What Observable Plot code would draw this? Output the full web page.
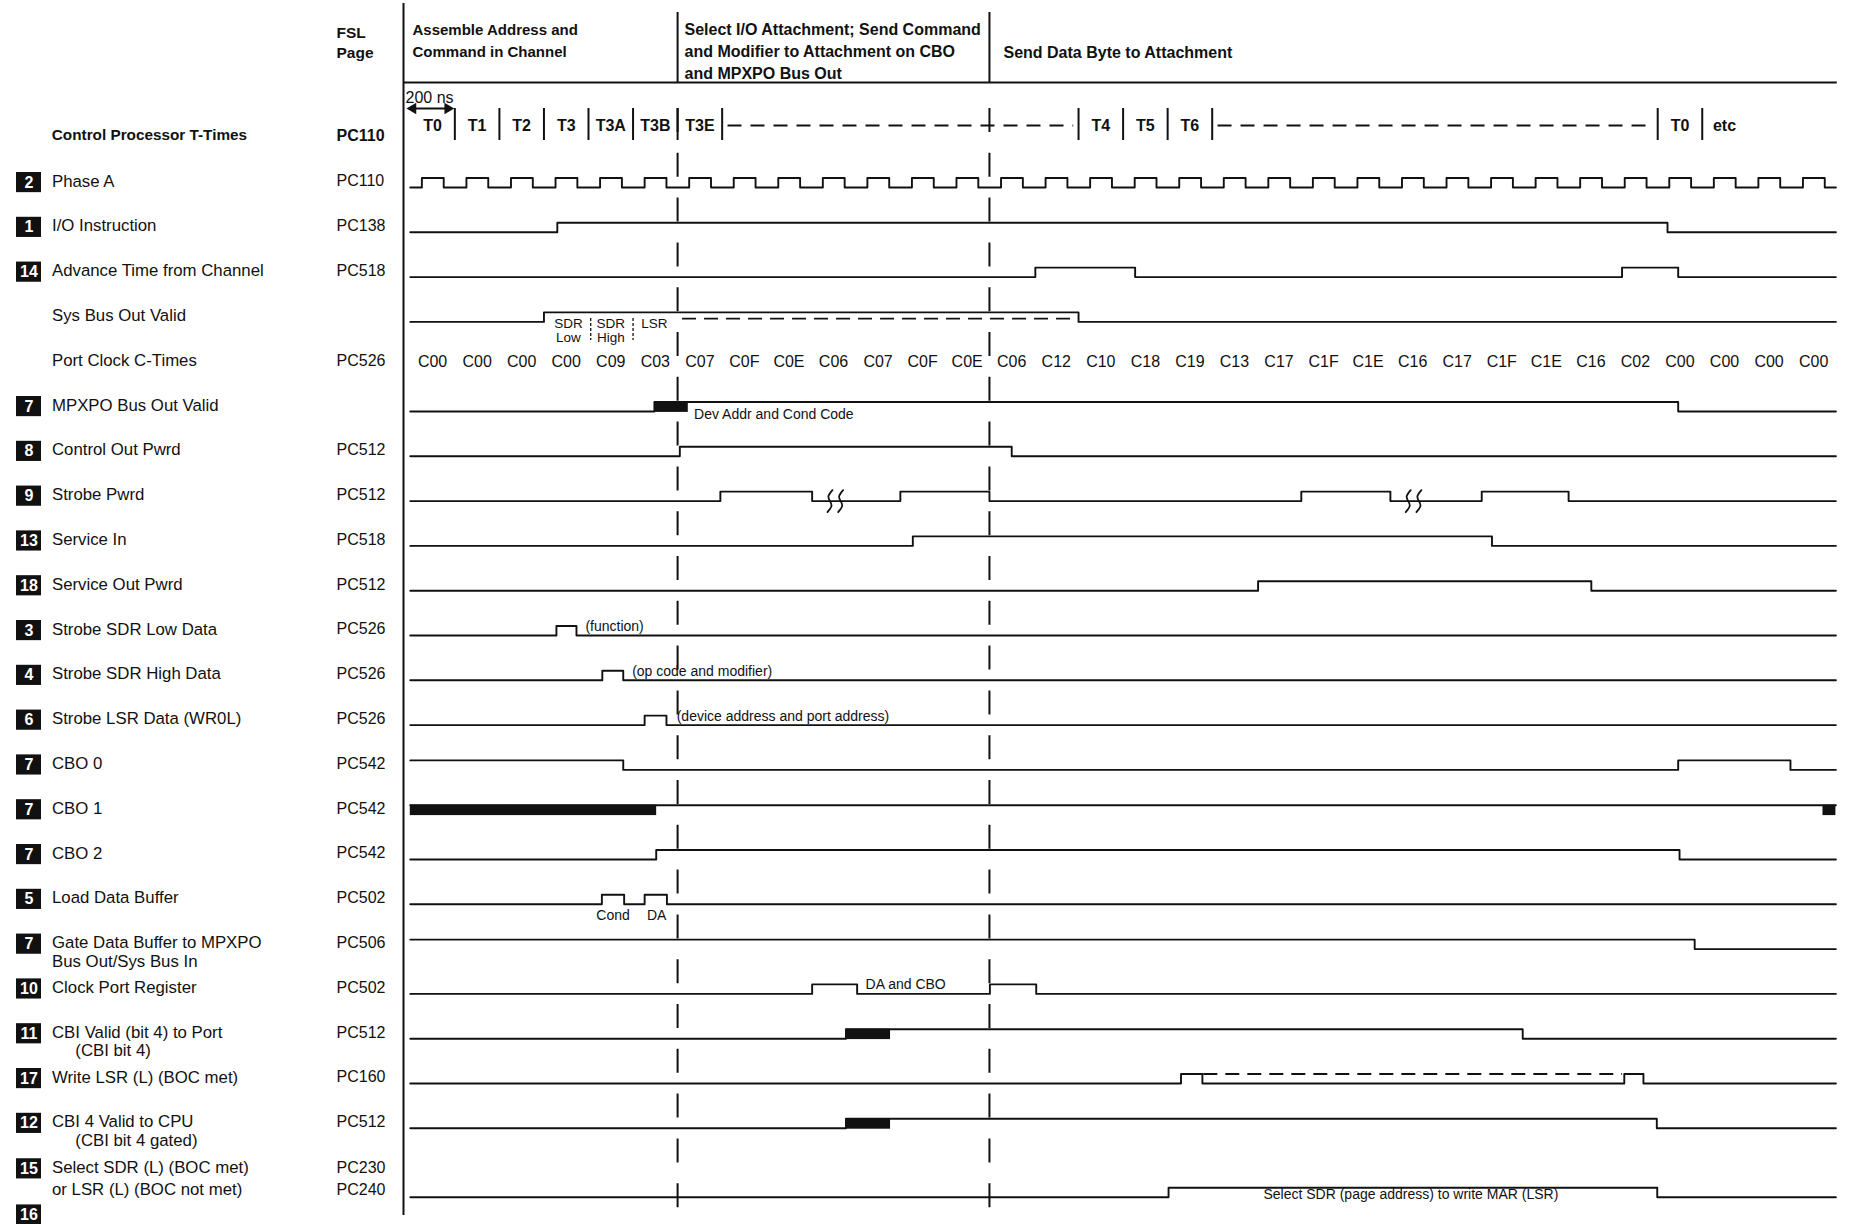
<!DOCTYPE html>
<html><head><meta charset="utf-8">
<script src="https://cdn.jsdelivr.net/npm/d3@7"></script>
<script src="https://cdn.jsdelivr.net/npm/@observablehq/plot@0.6"></script>
<style>html,body{margin:0;padding:0;background:#fff;overflow:hidden}</style>
</head><body><div id="chart"></div>
<script>
// ================= DATA =================
// time unit = one Port Clock column (200 ns); 32 columns
const cTimes = ["C00","C00","C00","C00","C09","C03","C07","C0F","C0E","C06","C07","C0F","C0E","C06","C12","C10","C18","C19","C13","C17","C1F","C1E","C16","C17","C1F","C1E","C16","C02","C00","C00","C00","C00"];
const tTimeLabels = ["T0","T1","T2","T3","T3A","T3B","T3E","T4","T5","T6","T0","etc"];
const tTimeCols = [0,1,2,3,4,5,6,15,16,17,28,29];
const tTimeDividers = [1,2,3,4,5,6,7,15,16,17,18,28,29];
const tTimeDashedSpans = [[7,15],[18,28]];
const phaseStarts = [0, 6, 13];
const phaseTitles = ["Assemble Address and\nCommand in Channel",
  "Select I/O Attachment; Send Command\nand Modifier to Attachment on CBO\nand MPXPO Bus Out",
  "Send Data Byte to Attachment"];

// left-hand rows (row index = position in list)
const rowLabels = ["Phase A","I/O Instruction","Advance Time from Channel","Sys Bus Out Valid","Port Clock C-Times",
  "MPXPO Bus Out Valid","Control Out Pwrd","Strobe Pwrd","Service In","Service Out Pwrd",
  "Strobe SDR Low Data","Strobe SDR High Data","Strobe LSR Data (WR0L)","CBO 0","CBO 1","CBO 2",
  "Load Data Buffer","Gate Data Buffer to MPXPO\nBus Out/Sys Bus In","Clock Port Register",
  "CBI Valid (bit 4) to Port\n\u00a0\u00a0\u00a0\u00a0\u00a0(CBI bit 4)","Write LSR (L) (BOC met)",
  "CBI 4 Valid to CPU\n\u00a0\u00a0\u00a0\u00a0\u00a0(CBI bit 4 gated)",
  "Select SDR (L) (BOC met)\nor LSR (L) (BOC not met)",""];
const rowBadges = ["2","1","14","","","7","8","9","13","18","3","4","6","7","7","7","5","7","10","11","17","12","15","16"];
const rowPages = ["PC110","PC138","PC518","","PC526","","PC512","PC512","PC518","PC512","PC526","PC526","PC526",
  "PC542","PC542","PC542","PC502","PC506","PC502","PC512","PC160","PC512","PC230\nPC240",""];
const headerRow = {label: "Control Processor T-Times", page: "PC110"};

// signal edges (times where the level toggles)
const phaseA = [0.26,0.75,1.26,1.75,2.26,2.75,3.26,3.75,4.26,4.75,5.26,5.75,6.26,6.75,7.26,7.75,8.26,8.75,9.26,9.75,
  10.26,10.75,11.26,11.75,12.26,12.75,13.26,13.75,14.26,14.75,15.26,15.75,16.26,16.75,17.26,17.75,18.26,18.75,19.26,19.75,
  20.26,20.75,21.26,21.75,22.26,22.75,23.26,23.75,24.26,24.75,25.26,25.75,26.26,26.75,27.26,27.75,28.26,28.75,29.26,29.75,
  30.26,30.75,31.26,31.75];
const ioInstruction = [3.3, 28.22];
const advanceTime = [14.03, 16.27, 27.2, 28.46];
const sysBusOutValid = [3.0, 15.0];
const mpxpoBusOutValid = [5.48, 28.46];
const controlOutPwrd = [6.05, 13.5];
const strobePwrd = [6.96, 9.02, 11.0, 13.0, 20.0, 22.0, 24.05, 26.0];
const serviceIn = [11.28, 24.28];
const serviceOutPwrd = [19.03, 26.51];
const strobeSdrLow = [3.28, 3.73];
const strobeSdrHigh = [4.31, 4.78];
const strobeLsr = [5.26, 5.75];
const cbo0 = [4.78, 28.46, 30.98];
const cbo1 = [];
const cbo2 = [5.52, 28.49];
const loadDataBuffer = [4.3, 4.8, 5.26, 5.76];
const gateDataBuffer = [28.83];
const clockPortRegister = [9.02, 10.03, 13.01, 14.05];
const cbiValidToPort = [9.78, 24.97];
const writeLsr = [17.3, 17.78, 27.25, 27.68];
const cbi4ValidToCpu = [9.78, 27.98];
const selectSdr = [17.02, 27.99];

const waves = [
  {row:0, start:0, edges:phaseA}, {row:1, start:0, edges:ioInstruction}, {row:2, start:0, edges:advanceTime},
  {row:3, start:0, edges:sysBusOutValid}, {row:5, start:0, edges:mpxpoBusOutValid}, {row:6, start:0, edges:controlOutPwrd},
  {row:7, start:0, edges:strobePwrd}, {row:8, start:0, edges:serviceIn}, {row:9, start:0, edges:serviceOutPwrd},
  {row:10, start:0, edges:strobeSdrLow}, {row:11, start:0, edges:strobeSdrHigh}, {row:12, start:0, edges:strobeLsr},
  {row:13, start:1, edges:cbo0}, {row:14, start:1, edges:cbo1}, {row:15, start:0, edges:cbo2},
  {row:16, start:0, edges:loadDataBuffer}, {row:17, start:1, edges:gateDataBuffer}, {row:18, start:0, edges:clockPortRegister},
  {row:19, start:0, edges:cbiValidToPort}, {row:20, start:0, edges:writeLsr}, {row:21, start:0, edges:cbi4ValidToCpu},
  {row:22, start:0, edges:selectSdr}
];
// changing / undefined intervals (filled)
const busyBars = [{row:5, from:5.48, to:6.24}, {row:14, from:0, to:5.53}, {row:14, from:31.71, to:32},
  {row:19, from:9.78, to:10.78}, {row:21, from:9.78, to:10.78}];
// dashed alternative levels
const dashedLevels = [{row:3, from:6.1, to:15, level:0.35}, {row:20, from:17.8, to:27.2, level:1}];
// break marks on Strobe Pwrd
const breaks = [{row:7, t:9.42}, {row:7, t:22.4}];
// Sys Bus Out fields
const sysBusFields = [{label:"SDR\nLow", t:3.55}, {label:"SDR\nHigh", t:4.5}, {label:"LSR", t:5.48}];
const sysBusSeparators = [4.05, 5.0];
const notesAbove = [{text:"(function)", row:10, t:3.93}, {text:"(op code and modifier)", row:11, t:4.98},
  {text:"(device address and port address)", row:12, t:5.98}, {text:"DA and CBO", row:18, t:10.22}];
const notesBelow = [{text:"Dev Addr and Cond Code", row:5, t:6.37}];
const loadLabels = [{text:"Cond", t:4.55}, {text:"DA", t:5.53}];
const selectNote = {text:"Select SDR (page address) to write MAR (LSR)", row:22, t:22.46};

// ================= LAYOUT =================
const W = 1851, H = 1224;
const X0 = 409.8, CW = 44.55;       // px of t=0, px per column
const Y0 = 187, RH = 44.8;          // px of row 0 low line, px per row
const tx = px => (px - X0) / CW;
const ry = px => (px - Y0) / RH;
const AMP = 0.212;
const rowBase = i => i === 22 ? 22.54 : i;
const labY = i => i === 22 ? 21.875 : i === 23 ? 22.905 : i - 0.14;
const lineGap = i => i === 22 ? 0.49 : 0.415;
const ink = "#111";
const font = "Liberation Sans, Arial, Helvetica, sans-serif";

const wavePts = waves.flatMap((w, k) => {
  let lvl = w.start;
  const pts = [{t:0, lvl}];
  for (const e of w.edges) { lvl = 1 - lvl; pts.push({t:e, lvl}); }
  pts.push({t:32, lvl});
  return pts.map(p => ({id:k, t:p.t, y: rowBase(w.row) - AMP * p.lvl}));
});

const breakPts = breaks.flatMap((b, k) => [0, 0.24].flatMap((off, j) =>
  [[2.5,-11],[-1.5,-5],[0,0],[1.5,5],[-2.5,11]].map(([dx,dy]) =>
    ({id: k*2+j, t: b.t + off + dx/CW, y: rowBase(b.row) + dy/RH}))));

const labelLines = rowLabels.flatMap((s, i) => s ? s.split("\n").map((l, j) => ({text:l, y: labY(i) + j*lineGap(i)})) : []);
const pageLines = rowPages.flatMap((s, i) => s ? s.split("\n").map((l, j) => ({text:l, y: labY(i) + j*lineGap(i)})) : []);
const badgeData = rowBadges.map((b, i) => ({b, y: labY(i) + 0.03})).filter(d => d.b);
const titleLines = phaseTitles.flatMap((s, i) => s.split("\n").map((l, j) => ({text:l, i, x:[tx(412), tx(684), tx(1003)][i], y: ry([30, 29, 52][i] + 22*j)})));

const tRowY = ry(125);
const chart = Plot.plot({
  width: W, height: H, marginTop: 0, marginRight: 0, marginBottom: 0, marginLeft: 0,
  x: {domain: [tx(0), tx(W)], range: [0, W], axis: null},
  y: {domain: [ry(0), ry(H)], range: [0, H], axis: null},
  style: {fontFamily: font, background: "#fff", color: ink},
  marks: [
    // header frame
    Plot.ruleY([ry(82)], {x1: tx(403), x2: 32.03, stroke: ink, strokeWidth: 2}),
    Plot.ruleX(phaseStarts.slice(1), {y1: ry(12), y2: ry(82), stroke: ink, strokeWidth: 2}),
    Plot.ruleX([tx(403)], {y1: ry(3), y2: ry(1215), stroke: ink, strokeWidth: 2}),
    Plot.text(titleLines.filter(d => d.i === 0), {x: "x", y: "y", text: "text", textAnchor: "start", fontSize: 15, fontWeight: "bold", fill: ink}),
    Plot.text(titleLines.filter(d => d.i > 0), {x: "x", y: "y", text: "text", textAnchor: "start", fontSize: 16, fontWeight: "bold", fill: ink}),
    Plot.text(["FSL", "Page"], {x: tx(336), y: (d, i) => ry([33, 53][i]), text: d => d, textAnchor: "start", fontSize: 15.5, fontWeight: "bold", fill: ink}),
    // phase boundary dashed lines
    Plot.ruleX(phaseStarts.slice(1), {y1: ry(108), y2: ry(H), stroke: ink, strokeWidth: 2, strokeDasharray: "24,20.8"}),
    // 200 ns scale
    Plot.link([0], {x1: -0.02, x2: 0.92, y1: ry(108), y2: ry(108), stroke: ink, strokeWidth: 2}),
    Plot.dot([{t: 0.06, r: -90}, {t: 0.84, r: 90}], {x: "t", y: ry(108), symbol: "triangle", r: 4.2, rotate: "r", fill: ink, stroke: "none"}),
    Plot.text(["200 ns"], {x: tx(405), y: ry(97), textAnchor: "start", fontSize: 16, fill: ink}),
    // T-times row
    Plot.ruleX(tTimeDividers, {y1: ry(108), y2: ry(140), stroke: ink, strokeWidth: 2}),
    Plot.link(tTimeDashedSpans, {x1: d => d[0] + 0.12, x2: d => d[1] - 0.12, y1: tRowY, y2: tRowY, stroke: ink, strokeWidth: 2, strokeDasharray: "14,9"}),
    Plot.text(tTimeLabels, {x: (d, i) => tTimeCols[i] + 0.5, y: tRowY, text: d => d, fontSize: 16, fontWeight: "bold", fill: ink}),
    // Port clock C-times
    Plot.text(cTimes, {x: (d, i) => i + 0.5, y: ry(361), text: d => d, fontSize: 16, fill: ink}),
    // waveforms
    Plot.line(wavePts, {x: "t", y: "y", z: "id", curve: "step-after", stroke: ink, strokeWidth: 1.9}),
    Plot.rect(busyBars, {x1: "from", x2: "to", y1: d => rowBase(d.row) - AMP, y2: d => rowBase(d.row) + 0.02, fill: ink}),
    Plot.link(dashedLevels, {x1: "from", x2: "to", y1: d => rowBase(d.row) - AMP * d.level, y2: d => rowBase(d.row) - AMP * d.level, stroke: ink, strokeWidth: 1.8, strokeDasharray: "14,8"}),
    Plot.line(breakPts, {x: "t", y: "y", z: "id", curve: "natural", stroke: ink, strokeWidth: 1.8}),
    // Sys Bus Out fields
    Plot.ruleX(sysBusSeparators, {y1: ry(318), y2: ry(340), stroke: ink, strokeWidth: 1.3, strokeDasharray: "3,2"}),
    Plot.text(sysBusFields.flatMap(f => f.label.split("\n").map((l, j) => ({l, t: f.t, j}))),
      {x: "t", y: d => ry(323 + 14 * d.j), text: "l", fontSize: 13.5, fill: ink}),
    // annotations
    Plot.text(notesAbove, {x: "t", y: d => rowBase(d.row) - 0.2, text: "text", textAnchor: "start", fontSize: 14, fill: ink}),
    Plot.text(notesBelow, {x: "t", y: d => rowBase(d.row) + 0.07, text: "text", textAnchor: "start", fontSize: 14, fill: ink}),
    Plot.text(loadLabels, {x: "t", y: rowBase(16) + 0.25, text: "text", fontSize: 14, fill: ink}),
    Plot.text([selectNote], {x: "t", y: d => rowBase(d.row) - 0.06, text: "text", fontSize: 14, fill: ink}),
    // left labels
    Plot.text([headerRow], {x: tx(51.3), y: ry(134.6), text: "label", textAnchor: "start", fontSize: 15.3, fontWeight: "bold", fill: ink}),
    Plot.text([headerRow], {x: tx(336), y: ry(135.7), text: "page", textAnchor: "start", fontSize: 16, fontWeight: "bold", fill: ink}),
    Plot.text(labelLines, {x: tx(51.5), y: "y", text: "text", textAnchor: "start", fontSize: 16.8, fill: ink}),
    Plot.text(pageLines, {x: tx(336), y: "y", text: "text", textAnchor: "start", fontSize: 16, fill: ink}),
    Plot.rect(badgeData, {x1: tx(16), x2: tx(41), y1: d => d.y - 0.225, y2: d => d.y + 0.225, fill: ink}),
    Plot.text(badgeData, {x: tx(28.5), y: "y", text: "b", fontSize: 16, fontWeight: "bold", fill: "#fff"})
  ]
});
document.getElementById("chart").appendChild(chart);
</script>
</body></html>
